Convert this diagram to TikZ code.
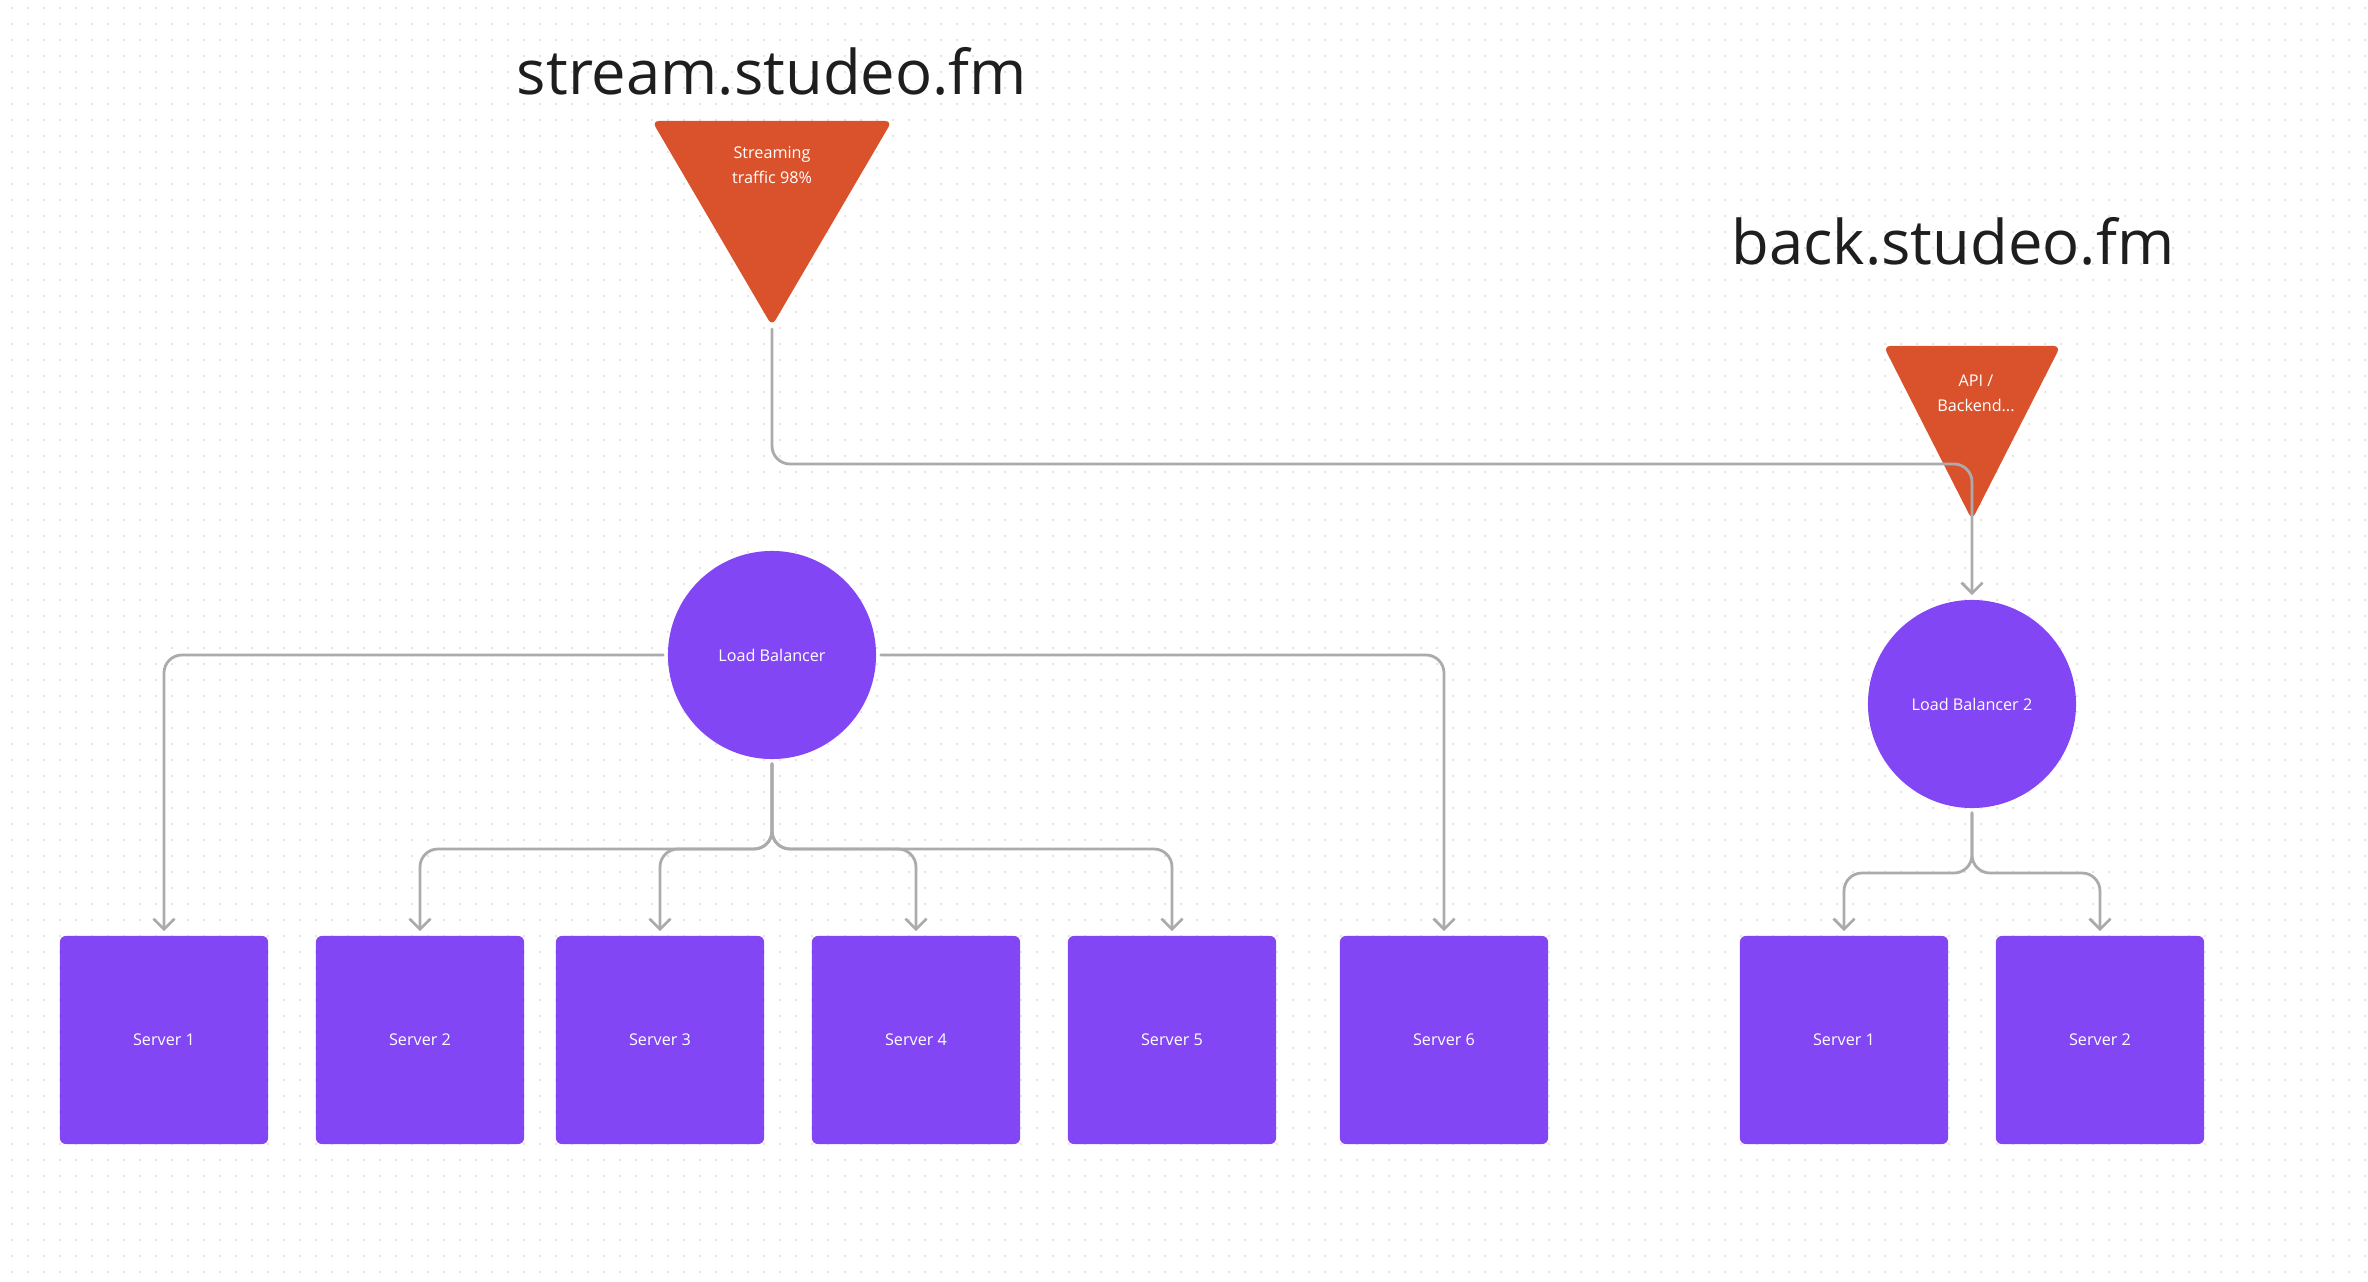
\documentclass[tikz,border=0pt]{standalone}
\usepackage{fontspec}
\setmainfont{Open Sans}
\usepackage{tikz}
\usetikzlibrary{math}
\usetikzlibrary{arrows.meta}

\definecolor{violetfill}{HTML}{8346F5}
\definecolor{orangefill}{HTML}{DA522C}
\definecolor{linkgray}{HTML}{ABABAB}
\definecolor{dotgray}{HTML}{E4E4E4}
\definecolor{titleink}{HTML}{1E1E1E}

\tikzset{
  server/.style={rectangle, rounded corners=0.06cm, fill=violetfill, minimum size=2.08cm, inner sep=0pt, text=white, font=\fontsize{4.6}{5.5}\selectfont},
  balancer/.style={circle, fill=violetfill, minimum size=2.08cm, inner sep=0pt, text=white, font=\fontsize{4.6}{5.5}\selectfont},
  funnel/.style={fill=orangefill, rounded corners=0.07cm},
  funnellabel/.style={text=white, align=center, inner sep=0pt, font=\fontsize{4.6}{7.1}\selectfont},
  hostname/.style={text=titleink, anchor=base, inner sep=0pt, font=\fontsize{17.5}{21}\selectfont},
  link/.style={draw=linkgray, line width=0.8pt, rounded corners=0.18cm, line cap=round},
  tolink/.style={link, -{Straight Barb[length=3pt,width=6pt]}, shorten <=0.04cm, shorten >=0.04cm}
}

\begin{document}
\begin{tikzpicture}[x=0.01cm, y=-0.01cm]

% Plocha s teckami
\fill[white] (0,0) rectangle (2368,1282);
\useasboundingbox (0,0) rectangle (2368,1282);
\foreach \y in {8,24,...,1282}
  \draw[dotgray, line width=0.02cm, dash pattern=on 0.02cm off 0.14cm] (11,\y) -- (2368,\y);

% Streaming
\tikzmath{ \x = 772; \y = 121; \w = 120; \h = 205; }

\node[hostname] (streamtitle) at (\x, 95) {stream.studeo.fm};
\fill[funnel] (\x - \w, \y) -- (\x + \w, \y) -- (\x, \y + \h) -- cycle;
\node[funnellabel] (streamlabel) at (\x, 165) {Streaming\\traffic 98\%};
\coordinate (streamtip) at (\x, \y + \h + 3);

% Backend
\tikzmath{ \x = 1972; \y = 346; \w = 88.5; \h = 174; }

\node[hostname] (backtitle) at (1953, 265) {back.studeo.fm};
\fill[funnel] (\x - \w, \y) -- (\x + \w, \y) -- (\x, \y + \h) -- cycle;
\node[funnellabel] (backlabel) at (\x + 4, 393) {API /\\Backend...};

% Load balancery
\node[balancer] (lb1) at (772, 655) {Load Balancer};
\node[balancer] (lb2) at (1972, 704) {Load Balancer 2};

% Servery
\node[server] (srv1) at (164, 1040) {Server 1};
\node[server] (srv2) at (420, 1040) {Server 2};
\node[server] (srv3) at (660, 1040) {Server 3};
\node[server] (srv4) at (916, 1040) {Server 4};
\node[server] (srv5) at (1172, 1040) {Server 5};
\node[server] (srv6) at (1444, 1040) {Server 6};

\node[server] (back1) at (1844, 1040) {Server 1};
\node[server] (back2) at (2100, 1040) {Server 2};

% Spoje
\coordinate (streambend) at (1972, 464);
\draw[tolink, shorten <=0pt] (streamtip) |- (streambend) -- (lb2.north);

\draw[tolink] (lb1.west) -| (srv1.north);
\draw[tolink] (lb1.east) -| (srv6.north);

\coordinate (split1) at (772, 849);
\draw[tolink] (lb1.south) -- (split1) -| (srv2.north);
\draw[tolink] (lb1.south) -- (split1) -| (srv3.north);
\draw[tolink] (lb1.south) -- (split1) -| (srv4.north);
\draw[tolink] (lb1.south) -- (split1) -| (srv5.north);

\coordinate (split2) at (1972, 873);
\draw[tolink] (lb2.south) -- (split2) -| (back1.north);
\draw[tolink] (lb2.south) -- (split2) -| (back2.north);

\end{tikzpicture}
\end{document}
